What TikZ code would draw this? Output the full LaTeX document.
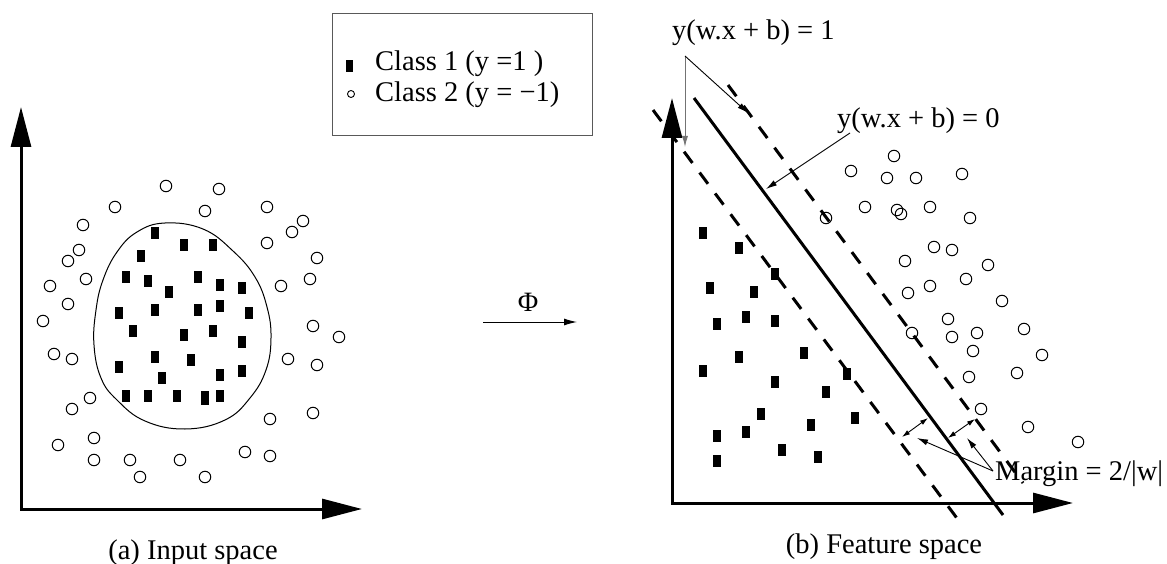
\documentclass[tikz,border=0pt]{standalone}
\usepackage{fontspec}
\setmainfont{Liberation Serif}
\usetikzlibrary{arrows.meta}
\begin{document}
\begin{tikzpicture}[x=1pt,y=-1pt,
  lbl/.style={font=\fontsize{28.5}{32}\selectfont, inner sep=0pt},
  dot/.style={circle, draw, line width=1pt, minimum size=11.5pt, inner sep=0pt},
  sq/.style={rectangle, fill=black, minimum width=8pt, minimum height=12pt, inner sep=0pt},
  axis/.style={line width=3pt, line join=miter, {Triangle[length=40pt,width=20pt]}-{Triangle[length=40pt,width=20pt]}},
  sep/.style={line width=3pt},
  sepdash/.style={line width=3pt, dash pattern=on 14pt off 12pt},
  thinarrow/.style={line width=0.9pt, -{Latex[length=11pt,width=6pt]}},
  dblarrow/.style={line width=0.9pt, {Latex[length=8pt,width=5pt]}-{Latex[length=8pt,width=5pt]}}
]
\useasboundingbox (0,0) rectangle (1167,564);

% ---------- left panel ----------
\coordinate (ly) at (21,107);
\coordinate (lo) at (21,509);
\coordinate (lx) at (362,509);
\draw[axis] (ly) -- (lo) -- (lx);

\draw[line width=1pt] plot[smooth cycle, tension=0.7] coordinates {
 (165,223) (203,229) (233,251) (255,277) (267,307) (271,338) (266,370) (250,398)
 (225,420) (185,429) (145,421) (117,400) (101,378) (94,345) (96,310) (103,280)
 (117,252) (137,232)};

\foreach \x/\y [count=\i] in {166/186,219/189,115/207,205/211,267/207,83/225,303/221,292/232,79/250,68/261,267/243,317/258,86/279,50/286,281/286,310/279,68/304,43/321,313/326,339/337,54/354,72/359,288/359,317/365,90/398,72/409,313/413,270/419,94/438,58/445,94/460,130/460,180/460,245/452,270/456,140/477,205/477}
  \node[dot] (lc\i) at (\x,\y) {};

\foreach \x/\y [count=\i] in {155/233,184/245,213/245,141/256,126/277,148/281,198/277,220/285,242/288,169/292,119/313,155/310,198/310,220/306,249/313,133/331,184/335,213/331,242/342,155/357,191/360,119/367,162/378,220/375,242/371,126/396,148/396,177/396,220/396}
  \node[sq] (ls\i) at (\x,\y) {};
\node[sq, minimum height=14pt] (lsx) at (205,398) {};

\node[lbl, anchor=base] (capa) at (193,559) {(a) Input space};

% ---------- legend ----------
\node[draw=black!65, line width=1pt, minimum width=260pt, minimum height=122pt, anchor=north west] (legend) at (332,13) {};
\node[rectangle, fill=black, minimum width=7pt, minimum height=12pt, inner sep=0pt] (legsq) at (349.5,66) {};
\node[circle, draw, line width=0.9pt, minimum size=7pt, inner sep=0pt] (legc) at (351,94) {};
\node[lbl, anchor=base west] (leg1) at (375,71) {Class 1 (y =1 )};
\node[lbl, anchor=base west] (leg2) at (375,102) {Class 2 (y = −1)};

% ---------- mapping arrow ----------
\coordinate (pa) at (483,322);
\coordinate (pb) at (577,322);
\draw[line width=1pt, -{Latex[length=13pt,width=7pt]}] (pa) -- (pb);
\node[font=\fontsize{28}{30}\selectfont, inner sep=0pt, anchor=base] (phi) at (528,311) {Φ};

% ---------- right panel ----------
\coordinate (ry) at (672,98);
\coordinate (ro) at (672,503);
\coordinate (rx) at (1073,503);
\draw[axis] (ry) -- (ro) -- (rx);

\coordinate (s1) at (694,98);
\coordinate (s2) at (1003,515);
\coordinate (u1) at (728,85);
\coordinate (u2) at (1023,483);
\coordinate (d1) at (653,110);
\coordinate (d2) at (962,525);
\draw[sep] (s1) -- (s2);
\draw[sepdash] (u1) -- (u2);
\draw[sepdash] (d1) -- (d2);

\foreach \x/\y [count=\i] in {894/156,851/171,887/178,916/178,962/174,865/207,897/210,901/214,930/207,970/218,826/218,934/247,952/250,905/261,988/265,966/279,930/286,908/293,1002/301,948/319,912/333,952/337,977/333,1024/329,973/351,1042/355,1017/373,969/377,981/409,1028/427,1078/442}
  \node[dot] (rc\i) at (\x,\y) {};

\foreach \x/\y [count=\i] in {703/233,739/248,775/274,710/288,754/292,717/324,746/317,775/321,739/357,804/353,703/371,775/382,847/374,826/392,761/414,855/418,811/425,717/436,746/432,782/450,818/457,717/461}
  \node[sq] (rs\i) at (\x,\y) {};

% labels and pointers
\node[lbl, anchor=base west] (eq1) at (672,40) {y(w.x + b) = 1};
\node[lbl, anchor=base west] (eq0) at (837,128) {y(w.x + b) = 0};
\node[lbl, anchor=base west] (marg) at (995,480) {Margin = 2/|w|};
\node[lbl, anchor=base] (capb) at (884,553) {(b) Feature space};

\coordinate (e1) at (685,56);
\coordinate (e1a) at (685,147);
\coordinate (e1b) at (748,113);
\draw[thinarrow, draw=black!55] (e1) -- (e1a);
\draw[thinarrow] (e1) -- (e1b);

\coordinate (e0) at (850,133);
\coordinate (e0a) at (766,189);
\draw[thinarrow] (e0) -- (e0a);

\coordinate (m1a) at (902,437);
\coordinate (m1b) at (928,418);
\coordinate (m2a) at (948,438);
\coordinate (m2b) at (975,419);
\draw[dblarrow] (m1a) -- (m1b);
\draw[dblarrow] (m2a) -- (m2b);

\coordinate (mg) at (993,471);
\coordinate (mt1) at (917,438);
\coordinate (mt2) at (967,438);
\draw[thinarrow] (mg) -- (mt1);
\draw[thinarrow] (mg) -- (mt2);
\end{tikzpicture}
\end{document}
